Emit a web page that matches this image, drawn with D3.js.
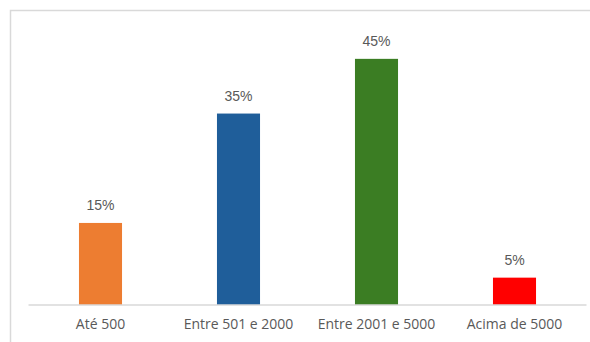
<!DOCTYPE html>
<html>
<head>
<meta charset="utf-8">
<script src="https://cdn.jsdelivr.net/npm/d3@7"></script>
<style>
  html, body { margin: 0; padding: 0; background: #fff; }
  svg { display: block; }
</style>
</head>
<body>
<svg id="chart" width="590" height="342"></svg>
<script>
// Share of respondents by range
const categories = ["Até 500", "Entre 501 e 2000", "Entre 2001 e 5000", "Acima de 5000"];
const values = [15, 35, 45, 5];
const valueLabels = ["15%", "35%", "45%", "5%"];
const barColors = ["#ED7D31", "#1F5E9A", "#3B7D23", "#FF0000"];

const svg = d3.select("#chart");

// Chart frame (extends past the right and bottom edges)
svg.append("rect")
  .attr("x", 10.5).attr("y", 10.5)
  .attr("width", 700).attr("height", 500)
  .attr("fill", "#fff")
  .attr("stroke", "#D9D9D9")
  .attr("stroke-width", 1.5);

const plot = { left: 31.5, right: 583.5, top: 31.5, bottom: 305 };

const x = d3.scaleBand()
  .domain(categories)
  .range([plot.left, plot.right])
  .paddingInner(0.688)
  .paddingOuter(0.344);

const y = d3.scaleLinear()
  .domain([0, 50])
  .range([plot.bottom, plot.top]);

// Bars
svg.append("g").selectAll("rect")
  .data(categories)
  .join("rect")
  .attr("x", d => x(d))
  .attr("y", (d, i) => y(values[i]))
  .attr("width", x.bandwidth())
  .attr("height", (d, i) => y(0) - y(values[i]))
  .attr("fill", (d, i) => barColors[i]);

// Category axis
const axis = svg.append("g")
  .attr("transform", `translate(0,${plot.bottom})`)
  .call(d3.axisBottom(x).tickSize(0).tickPadding(14));
axis.select(".domain")
  .attr("stroke", "#D9D9D9")
  .attr("stroke-width", 1.5)
  .attr("d", `M${plot.left - 3},0H${plot.right + 3}`);
axis.selectAll("text")
  .attr("fill", "#595959")
  .style("font-family", "'Open Sans', 'Noto Sans', sans-serif")
  .style("font-size", "14px");

// Value labels
svg.append("g").selectAll("text")
  .data(categories)
  .join("text")
  .attr("x", d => x(d) + x.bandwidth() / 2)
  .attr("y", (d, i) => y(values[i]) - 13)
  .attr("text-anchor", "middle")
  .attr("fill", "#595959")
  .style("font-family", "'Liberation Sans', Arial, sans-serif")
  .style("font-size", "14px")
  .text((d, i) => valueLabels[i]);
</script>
</body>
</html>
